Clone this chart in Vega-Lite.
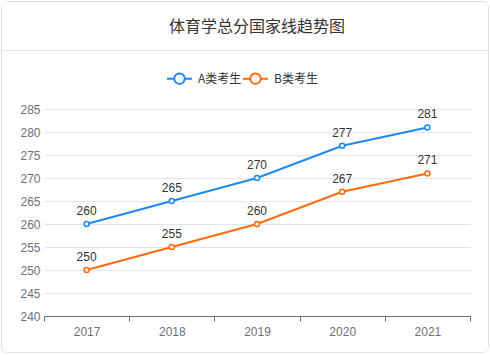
{
  "$schema": "https://vega.github.io/schema/vega-lite/v6.json",
  "autosize": {"type": "none"},
  "width": 426,
  "height": 207,
  "padding": {"left": 44, "top": 109, "right": 20, "bottom": 39},
  "background": "white",
  "title": {
    "text": "体育学总分国家线趋势图",
    "font": "Noto Sans CJK SC",
    "fontSize": 16,
    "fontWeight": "normal",
    "color": "#333333",
    "anchor": "middle",
    "frame": "group",
    "offset": -33
  },
  "data": {
    "values": [
      {"year": "2017", "type": "A类考生", "score": 260},
      {"year": "2018", "type": "A类考生", "score": 265},
      {"year": "2019", "type": "A类考生", "score": 270},
      {"year": "2020", "type": "A类考生", "score": 277},
      {"year": "2021", "type": "A类考生", "score": 281},
      {"year": "2017", "type": "B类考生", "score": 250},
      {"year": "2018", "type": "B类考生", "score": 255},
      {"year": "2019", "type": "B类考生", "score": 260},
      {"year": "2020", "type": "B类考生", "score": 267},
      {"year": "2021", "type": "B类考生", "score": 271}
    ]
  },
  "encoding": {
    "x": {
      "field": "year",
      "type": "ordinal",
      "scale": {"type": "band", "paddingInner": 0, "paddingOuter": 0},
      "axis": {
        "title": null,
        "labelAngle": 0,
        "labelColor": "#6e7079",
        "labelFontSize": 12,
        "labelFont": "Liberation Sans",
        "labelPadding": 5,
        "domainColor": "#6e7079",
        "tickColor": "#6e7079",
        "tickSize": 5,
        "tickBand": "extent",
        "grid": false
      }
    },
    "y": {
      "field": "score",
      "type": "quantitative",
      "scale": {"domain": [240, 285], "nice": false, "zero": false},
      "axis": {
        "title": null,
        "values": [240, 245, 250, 255, 260, 265, 270, 275, 280, 285],
        "labelColor": "#6e7079",
        "labelFontSize": 12,
        "labelFont": "Liberation Sans",
        "labelPadding": 4,
        "domain": false,
        "ticks": false,
        "gridColor": "#e0e6f1",
        "gridWidth": 1
      }
    }
  },
  "layer": [
    {
      "mark": {"type": "line", "strokeWidth": 2},
      "encoding": {
        "stroke": {
          "field": "type",
          "type": "nominal",
          "scale": {"domain": ["A类考生", "B类考生"], "range": ["#1e88f5", "#ff6a0f"]},
          "legend": {
            "title": null,
            "orient": "none",
            "direction": "horizontal",
            "legendX": 122,
            "legendY": -44,
            "padding": 0,
            "symbolType": "M-1,0H-0.42M0.42,0H1M-0.42,0A0.42,0.42 0 1,0 0.42,0A0.42,0.42 0 1,0 -0.42,0Z",
            "symbolSize": 625,
            "symbolStrokeWidth": 2,
            "labelFont": "Noto Sans CJK SC",
            "labelFontSize": 12,
            "labelColor": "#333333",
            "labelOffset": 5,
            "columnPadding": -3,
            "encode": {"symbols": {"update": {"fill": {"value": "white"}, "fillOpacity": {"value": 1}, "opacity": {"value": 1}}}}
          }
        }
      }
    },
    {
      "mark": {"type": "point", "filled": true, "strokeWidth": 1.5, "size": 25, "opacity": 1},
      "encoding": {
        "stroke": {"field": "type", "type": "nominal"},
        "fill": {
          "field": "score",
          "type": "quantitative",
          "scale": {"range": ["#ffffff", "#ffffff"]},
          "legend": {
            "title": null,
            "orient": "none",
            "direction": "horizontal",
            "legendX": -43,
            "legendY": -58.5,
            "padding": 0,
            "gradientLength": 487,
            "gradientThickness": 0,
            "gradientStrokeColor": "#e4e4e4",
            "gradientStrokeWidth": 1,
            "labelExpr": "''",
            "labelFontSize": 1,
            "encode": {"gradient": {"update": {"fillOpacity": {"value": 0}}}}
          }
        }
      }
    },
    {
      "mark": {"type": "text", "baseline": "bottom", "dy": -6, "fontSize": 12, "font": "Liberation Sans"},
      "encoding": {
        "text": {"field": "score", "type": "quantitative"},
        "fill": {
          "field": "score",
          "type": "quantitative",
          "scale": {"range": ["#333333", "#333333"]},
          "legend": {
            "title": null,
            "orient": "none",
            "direction": "vertical",
            "legendX": -42.5,
            "legendY": -107.5,
            "padding": 0,
            "gradientLength": 351,
            "gradientThickness": 487,
            "gradientStrokeColor": "#e2e2e2",
            "gradientStrokeWidth": 1,
            "labelExpr": "''",
            "labelFontSize": 1,
            "encode": {"gradient": {"update": {"fillOpacity": {"value": 0}, "cornerRadius": {"value": 6}}}}
          }
        }
      }
    }
  ],
  "resolve": {"scale": {"fill": "independent"}, "legend": {"fill": "independent"}},
  "config": {
    "view": {"stroke": null}
  }
}
